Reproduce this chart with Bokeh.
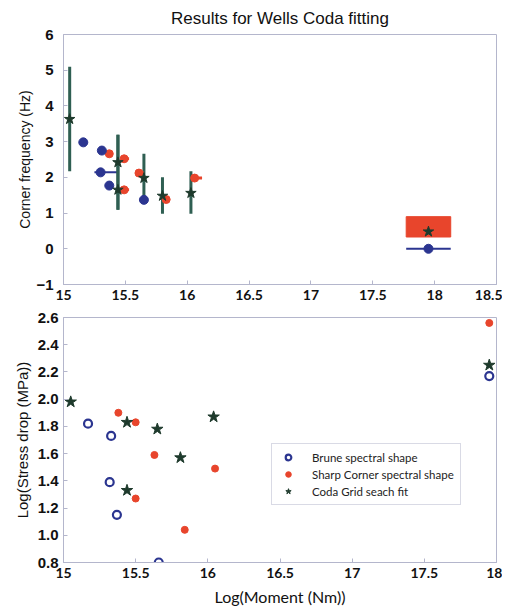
from bokeh.plotting import figure
from bokeh.layouts import column
from bokeh.models import Range1d, FixedTicker, Legend, LegendItem, NumeralTickFormatter
from bokeh.embed import file_html
from bokeh.resources import INLINE

# ---------------- data: top panel (corner frequency) ----------------
brune_m = [15.16, 15.31, 15.30, 15.37, 15.65, 17.95]
brune_fc = [2.98, 2.75, 2.14, 1.77, 1.37, 0.0]
brune_mlo = [15.16, 15.31, 15.25, 15.37, 15.65, 17.77]
brune_mhi = [15.16, 15.31, 15.44, 15.37, 15.65, 18.13]

sharp_m = [15.37, 15.49, 15.49, 15.61, 15.83, 16.06]
sharp_fc = [2.66, 2.52, 1.65, 2.12, 1.38, 1.98]
sharp_mlo = [15.34, 15.47, 15.47, 15.58, 15.80, 16.03]
sharp_mhi = [15.40, 15.53, 15.53, 15.65, 15.86, 16.12]
sharp_box_mlo = [17.77]
sharp_box_mhi = [18.13]
sharp_box_fclo = [0.33]
sharp_box_fchi = [0.90]

coda_m = [15.05, 15.44, 15.44, 15.65, 15.80, 16.03, 17.95]
coda_fc = [3.63, 2.42, 1.65, 1.98, 1.48, 1.56, 0.48]
coda_fclo = [2.17, 1.09, 1.09, 1.37, 0.98, 0.98, 0.40]
coda_fchi = [5.10, 3.19, 3.19, 2.66, 2.00, 2.17, 0.55]

top_xticks = [15, 15.5, 16, 16.5, 17, 17.5, 18, 18.5]
top_yticks = [-1, 0, 1, 2, 3, 4, 5, 6]

# ---------------- data: bottom panel (stress drop) ----------------
brune_m2 = [15.17, 15.33, 15.32, 15.37, 15.66, 17.95]
brune_sd = [1.82, 1.73, 1.39, 1.15, 0.80, 2.17]

sharp_m2 = [15.38, 15.50, 15.50, 15.63, 15.84, 16.05, 17.95]
sharp_sd = [1.90, 1.83, 1.27, 1.59, 1.04, 1.49, 2.56]

coda_m2 = [15.05, 15.44, 15.44, 15.65, 15.81, 16.04, 17.95]
coda_sd = [1.98, 1.83, 1.33, 1.78, 1.57, 1.87, 2.25]

bot_xticks = [15, 15.5, 16, 16.5, 17, 17.5, 18]
bot_yticks = [0.8, 1.0, 1.2, 1.4, 1.6, 1.8, 2.0, 2.2, 2.4, 2.6]

legend_labels = ["Brune spectral shape", "Sharp Corner spectral shape", "Coda Grid seach fit"]

BLUE = "#2b3590"
RED = "#e8452c"
GREEN_BAR = "#2f5f52"
STAR = "#1e3a2c"
FRAME = "#b4b6cc"
SANS = "Liberation Sans"


def style(p, xticks, yticks):
    p.outline_line_color = FRAME
    p.grid.visible = False
    for ax in (p.xaxis[0], p.yaxis[0]):
        ax.axis_line_color = FRAME
        ax.major_tick_line_color = FRAME
        ax.major_tick_in = 4
        ax.major_tick_out = 0
        ax.minor_tick_line_color = None
        ax.major_label_text_color = "#111111"
        ax.axis_label_text_color = "#111111"
        ax.axis_label_text_font_style = "normal"
    p.xaxis[0].ticker = FixedTicker(ticks=xticks)
    p.yaxis[0].ticker = FixedTicker(ticks=yticks)
    p.yaxis[0].major_label_text_font = SANS
    p.yaxis[0].major_label_text_font_style = "bold"
    p.yaxis[0].major_label_text_font_size = "15px"
    p.xaxis[0].major_label_text_font = "Lato"
    p.xaxis[0].major_label_text_font_style = "bold"
    p.xaxis[0].major_label_text_font_size = "14px"


# ---------------- top figure ----------------
p1 = figure(width=502, height=308, output_backend="svg", toolbar_location=None,
            x_range=Range1d(15, 18.5), y_range=Range1d(-1, 6),
            min_border_left=63, min_border_right=6, min_border_top=34, min_border_bottom=24,
            title="Results for Wells Coda fitting")
p1.title.align = "center"
p1.title.text_font = SANS
p1.title.text_font_size = "17px"
p1.title.text_font_style = "normal"
p1.title.text_color = "#111111"
p1.title.standoff = 13
style(p1, top_xticks, top_yticks)
p1.yaxis[0].major_label_standoff = 10
p1.yaxis[0].axis_label = "Corner frequency (Hz)"
p1.yaxis[0].axis_label_text_font = SANS
p1.yaxis[0].axis_label_text_font_size = "14px"
p1.yaxis[0].axis_label_standoff = 0

# red box (sharp corner, large event)
p1.quad(left=sharp_box_mlo, right=sharp_box_mhi, bottom=sharp_box_fclo, top=sharp_box_fchi,
        fill_color=RED, line_color=RED, fill_alpha=1.0)
# blue horizontal bars
p1.segment(x0=brune_mlo, y0=brune_fc, x1=brune_mhi, y1=brune_fc, line_color=BLUE, line_width=2)
# green vertical error bars
p1.segment(x0=coda_m, y0=coda_fclo, x1=coda_m, y1=coda_fchi, line_color=GREEN_BAR, line_width=3)
# red horizontal short bars + markers
p1.segment(x0=sharp_mlo, y0=sharp_fc, x1=sharp_mhi, y1=sharp_fc, line_color=RED, line_width=3)
p1.scatter(sharp_m, sharp_fc, marker="circle", size=8, fill_color=RED, line_color=RED)
p1.scatter(brune_m, brune_fc, marker="circle", size=9, fill_color=BLUE, line_color=BLUE)
p1.scatter(coda_m, coda_fc, marker="star", size=11, fill_color=STAR, line_color=STAR)

# ---------------- bottom figure ----------------
p2 = figure(width=502, height=300, output_backend="svg", toolbar_location=None,
            x_range=Range1d(15, 18), y_range=Range1d(0.8, 2.6),
            min_border_left=63, min_border_right=6, min_border_top=9, min_border_bottom=42)
style(p2, bot_xticks, bot_yticks)
p2.yaxis[0].formatter = NumeralTickFormatter(format="0.0")
p2.yaxis[0].axis_label = "Log(Stress drop (MPa))"
p2.yaxis[0].axis_label_text_font = SANS
p2.yaxis[0].axis_label_text_font_size = "15px"
p2.yaxis[0].axis_label_standoff = 4
p2.xaxis[0].axis_label = "Log(Moment (Nm))"
p2.xaxis[0].axis_label_text_font = "Lato"
p2.xaxis[0].axis_label_text_font_size = "16px"
p2.xaxis[0].axis_label_standoff = 6

r_b = p2.scatter(brune_m2, brune_sd, marker="circle", size=8, fill_color="white",
                 line_color=BLUE, line_width=2.2)
r_s = p2.scatter(sharp_m2, sharp_sd, marker="circle", size=7, fill_color=RED, line_color=RED)
r_c = p2.scatter(coda_m2, coda_sd, marker="star", size=12, fill_color=STAR, line_color=STAR)

legend = Legend(items=[LegendItem(label=legend_labels[0], renderers=[r_b]),
                       LegendItem(label=legend_labels[1], renderers=[r_s]),
                       LegendItem(label=legend_labels[2], renderers=[r_c])],
                location=(208, 57))
legend.label_text_font = "Lato"
legend.label_text_font_size = "11.5px"
legend.label_text_color = "#222222"
legend.border_line_color = FRAME
legend.background_fill_color = "white"
legend.glyph_height = 14
legend.glyph_width = 20
legend.label_height = 14
legend.spacing = 3
legend.padding = 6
legend.margin = 0
legend.label_standoff = 14
p2.add_layout(legend, "center")

layout = column(p1, p2, spacing=0)
open("out.html", "w").write(file_html(layout, INLINE))
